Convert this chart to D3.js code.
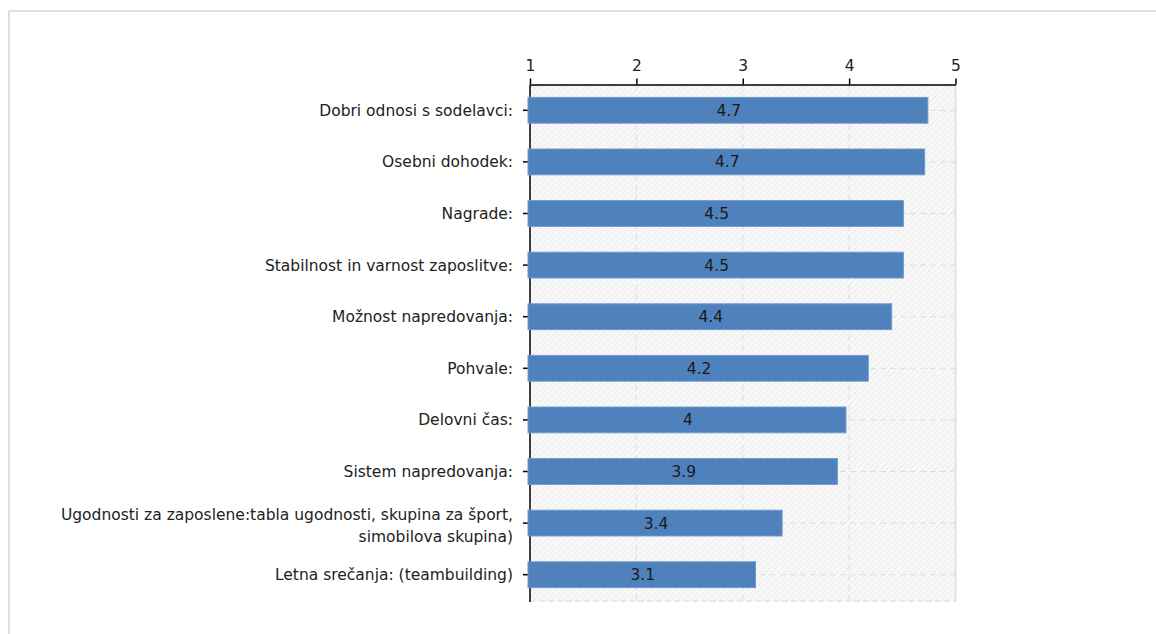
<!DOCTYPE html>
<html>
<head>
<meta charset="utf-8">
<script src="https://cdn.jsdelivr.net/npm/d3@7"></script>
<style>
  html, body { margin: 0; padding: 0; background: #fff; }
  svg { display: block; font-family: "DejaVu Sans", Verdana, sans-serif; }
</style>
</head>
<body>
<svg id="chart" width="1156" height="634"></svg>
<script>
// Survey answers: average score per factor (scale 1–5)
const categories = [
  "Dobri odnosi s sodelavci:",
  "Osebni dohodek:",
  "Nagrade:",
  "Stabilnost in varnost zaposlitve:",
  "Možnost napredovanja:",
  "Pohvale:",
  "Delovni čas:",
  "Sistem napredovanja:",
  "Ugodnosti za zaposlene:tabla ugodnosti, skupina za šport,\nsimobilova skupina)",
  "Letna srečanja: (teambuilding)"
];
const averages = [4.74, 4.71, 4.51, 4.51, 4.40, 4.18, 3.97, 3.89, 3.37, 3.12];
const tickValues = [1, 2, 3, 4, 5];

const fontSize = 15.5;
const svg = d3.select("#chart");

// outer frame
svg.append("path")
  .attr("d", "M9,640 V11 H1160")
  .attr("fill", "none")
  .attr("stroke", "#d5d5d5")
  .attr("stroke-width", 1.5);

const x = d3.scaleLinear().domain([1, 5]).range([530, 955.5]);
const y = d3.scaleBand()
  .domain(categories)
  .range([84.5, 600.5])
  .paddingInner(0.5)
  .paddingOuter(0.25);

const plotTop = 84.5, plotBottom = 601;

// hatched plot background
const defs = svg.append("defs");
const pat = defs.append("pattern")
  .attr("id", "hatch")
  .attr("patternUnits", "userSpaceOnUse")
  .attr("width", 6).attr("height", 6);
pat.append("rect").attr("width", 6).attr("height", 6).attr("fill", "#f8f8f8");
pat.append("path")
  .attr("d", "M-1,7 L7,-1 M-1,1 L1,-1 M5,7 L7,5")
  .attr("stroke", "#e9e9e9")
  .attr("stroke-width", 1);

svg.append("rect")
  .attr("x", x(1)).attr("y", plotTop)
  .attr("width", x(5) - x(1)).attr("height", plotBottom - plotTop)
  .attr("fill", "url(#hatch)");

// vertical dashed grid
svg.append("g").selectAll("line")
  .data(tickValues.slice(1, -1))
  .join("line")
  .attr("x1", d => x(d)).attr("x2", d => x(d))
  .attr("y1", plotTop).attr("y2", plotBottom)
  .attr("stroke", "#dedede")
  .attr("stroke-dasharray", "6,4");

// horizontal dashed grid at each category
svg.append("g").selectAll("line")
  .data(categories)
  .join("line")
  .attr("x1", x(1)).attr("x2", x(5))
  .attr("y1", d => y(d) + y.bandwidth() / 2)
  .attr("y2", d => y(d) + y.bandwidth() / 2)
  .attr("stroke", "#dedede")
  .attr("stroke-dasharray", "6,4");

// bottom dashed border and right border
svg.append("line")
  .attr("x1", x(1)).attr("x2", x(5))
  .attr("y1", plotBottom).attr("y2", plotBottom)
  .attr("stroke", "#dcdcdc")
  .attr("stroke-dasharray", "6,3");
svg.append("line")
  .attr("x1", x(5)).attr("x2", x(5))
  .attr("y1", plotTop).attr("y2", plotBottom + 1)
  .attr("stroke", "#e2e2e2")
  .attr("stroke-width", 2);

// top axis
const xAxis = d3.axisTop(x)
  .tickValues(tickValues)
  .tickFormat(d3.format("d"))
  .tickSize(6)
  .tickSizeOuter(0);
const gx = svg.append("g")
  .attr("transform", `translate(0,${plotTop})`)
  .call(xAxis);
gx.select(".domain").attr("stroke", "#000").attr("stroke-width", 1.5);
gx.selectAll(".tick line").attr("stroke", "#000").attr("stroke-width", 1.5);
gx.selectAll(".tick text")
  .attr("font-family", "DejaVu Sans, sans-serif")
  .attr("font-size", fontSize)
  .attr("fill", "#222")
  .attr("y", -14);

// left axis line and category ticks
svg.append("line")
  .attr("x1", x(1)).attr("x2", x(1))
  .attr("y1", plotTop).attr("y2", plotBottom + 1)
  .attr("stroke", "#000")
  .attr("stroke-width", 1.5);
svg.append("g").selectAll("line")
  .data(categories)
  .join("line")
  .attr("x1", x(1) - 7).attr("x2", x(1))
  .attr("y1", d => y(d) + y.bandwidth() / 2)
  .attr("y2", d => y(d) + y.bandwidth() / 2)
  .attr("stroke", "#000")
  .attr("stroke-width", 1.5);

// category labels (multi-line aware)
const lineH = 22;
const labels = svg.append("g")
  .attr("font-size", fontSize)
  .attr("fill", "#222")
  .attr("text-anchor", "end");
categories.forEach(c => {
  const lines = c.split("\n");
  const cy = y(c) + y.bandwidth() / 2;
  const t = labels.append("text")
    .attr("x", x(1) - 17)
    .attr("y", cy + (lines.length > 1 ? 2 : 0));
  lines.forEach((ln, i) => {
    t.append("tspan")
      .attr("x", x(1) - 17)
      .attr("dy", i === 0 ? ((-(lines.length - 1) / 2) * lineH + 5.5) : lineH)
      .text(ln);
  });
});

// bars
const data = categories.map((c, i) => ({ c, v: averages[i] }));
svg.append("g").selectAll("rect")
  .data(data)
  .join("rect")
  .attr("x", x(1) - 2)
  .attr("y", d => y(d.c))
  .attr("width", d => x(d.v) - x(1) + 2)
  .attr("height", y.bandwidth())
  .attr("fill", "#4f81bd")
  .attr("stroke", "#6f9ad0")
  .attr("stroke-width", 1);

// value labels centred in each bar
const fmt = v => String(+v.toFixed(1));
svg.append("g").selectAll("text")
  .data(data)
  .join("text")
  .attr("x", d => (x(1) + x(d.v)) / 2)
  .attr("y", d => y(d.c) + y.bandwidth() / 2 + 5.5)
  .attr("text-anchor", "middle")
  .attr("font-size", fontSize)
  .attr("fill", "#1a1a1a")
  .text(d => fmt(d.v));
</script>
</body>
</html>
